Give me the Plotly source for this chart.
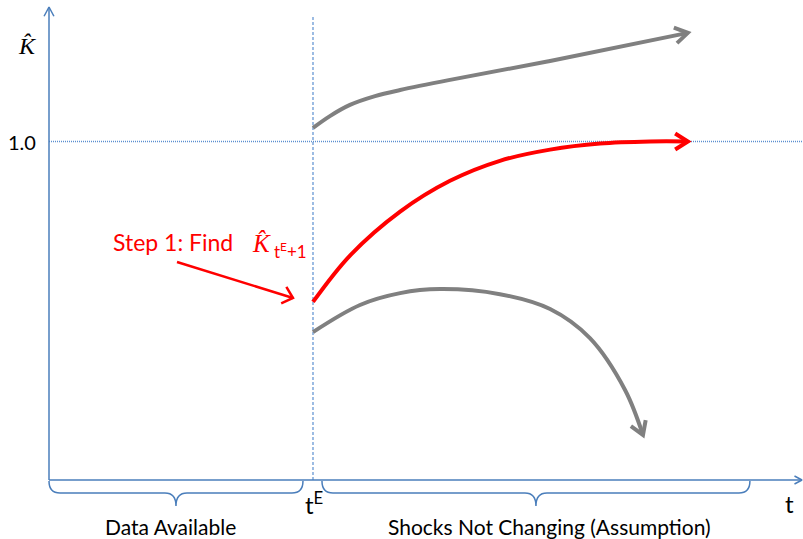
import numpy as np
import plotly.graph_objects as go

# ---------------- data (t in periods, K-hat in units of steady state) ----------------
t_upper = [10.0, 10.64, 11.40, 12.35, 13.30, 15.19, 18.98, 24.20]
k_upper = [1.040, 1.075, 1.108, 1.134, 1.152, 1.182, 1.238, 1.321]

t_red = [10.0, 11.40, 13.30, 15.19, 17.08, 18.98, 20.87, 22.77, 24.20]
k_red = [0.526, 0.663, 0.793, 0.884, 0.943, 0.976, 0.994, 1.0, 1.0]

t_lower = [10.0, 11.78, 13.30, 14.81, 17.08, 18.98, 20.49, 21.82, 22.50]
k_lower = [0.437, 0.517, 0.552, 0.564, 0.549, 0.505, 0.419, 0.266, 0.133]

t_E = 10.0
k_ref = 1.0
y_tick_labels = ["1.0"]
brace_spans = [(0.0, 9.62), (10.34, 26.55)]
brace_labels = ["Data Available", "Shocks Not Changing (Assumption)"]
brace_label_t = [4.62, 18.94]

# ---------------- geometry helpers ----------------
W, H = 803, 539
X0PX, Y0PX = 49, 480
SX, SY = 26.4, 338.5


def xd(px):
    return (px - X0PX) / SX


def yd(py):
    return (Y0PX - py) / SY


def xp(x):
    return X0PX + x * SX


def yp(y):
    return Y0PX - y * SY


def chevron(x_from, y_from, x_tip, y_tip, length, half_angle_deg):
    """Open arrowhead at (x_tip,y_tip) pointing along from->tip, computed in pixel space."""
    ax, ay = xp(x_from), yp(y_from)
    bx, by = xp(x_tip), yp(y_tip)
    ang = np.arctan2(by - ay, bx - ax)
    h = np.radians(half_angle_deg)
    xs, ys = [], []
    for s in (1, -1):
        a = ang + np.pi + s * h
        xs.append(xd(bx + length * np.cos(a)))
        ys.append(yd(by + length * np.sin(a)))
    return [xs[0], x_tip, xs[1]], [ys[0], y_tip, ys[1]]


BLUE = "#4a7ebb"
GRAY = "#808080"
RED = "#ff0000"
FONT = "Lato"

fig = go.Figure()


def add_line(x, y, color, width, dash="solid", shape="linear"):
    fig.add_trace(go.Scatter(x=x, y=y, mode="lines", hoverinfo="skip",
                             line=dict(color=color, width=width, dash=dash, shape=shape)))


# reference lines
x_right = xd(W)
add_line([0, x_right], [k_ref, k_ref], "#5b8fd0", 1.3, dash="1px,1px")
add_line([t_E, t_E], [0, yd(15)], "#5b8fd0", 1.2, dash="3px,2px")

# axes with arrows
y_top = yd(7)
add_line([0, 0], [0, y_top], BLUE, 1.5)
x_tip = xd(802)
add_line([0, x_tip], [0, 0], BLUE, 1.5)
cx, cy = chevron(0, 0, 0, y_top, 10.5, 28)
add_line(cx, cy, BLUE, 1.5)
cx, cy = chevron(0, 0, x_tip, 0, 8.5, 28)
add_line(cx, cy, BLUE, 1.5)

# curves
for tt, kk, col in ((t_upper, k_upper, GRAY), (t_lower, k_lower, GRAY), (t_red, k_red, RED)):
    add_line(tt, kk, col, 4, shape="spline")
    cx, cy = chevron(tt[-2], kk[-2], tt[-1], kk[-1], 15, 32)
    add_line(cx, cy, col, 4)

# Step 1 pointer arrow
sx0, sy0 = xd(177), yd(262)
sx1, sy1 = xd(293), yd(298)
add_line([sx0, sx1], [sy0, sy1], RED, 2.5)
cx, cy = chevron(sx0, sy0, sx1, sy1, 13, 42)
add_line(cx, cy, RED, 2.5)

# braces
shapes = []
r = 11 / SX
y_top_b = yd(481)
y_mid_b = yd(493)
y_tip_b = yd(506)
for (a, b) in brace_spans:
    m = (a + b) / 2
    path = (f"M {a},{y_top_b} Q {a},{y_mid_b} {a + r},{y_mid_b} "
            f"L {m - r},{y_mid_b} Q {m},{y_mid_b} {m},{y_tip_b} "
            f"Q {m},{y_mid_b} {m + r},{y_mid_b} "
            f"L {b - r},{y_mid_b} Q {b},{y_mid_b} {b},{y_top_b}")
    shapes.append(dict(type="path", path=path, xref="x", yref="y",
                       line=dict(color=BLUE, width=1.5)))

annotations = []


def text(x, y, s, size, color="black", family=FONT, xanchor="center"):
    annotations.append(dict(x=x, y=y, xref="x", yref="y", text=s, showarrow=False,
                            font=dict(family=family, size=size, color=color),
                            xanchor=xanchor, yanchor="middle"))


text(xd(22), k_ref, y_tick_labels[0], 20)
text(xd(27), yd(46), "<i>K\u0302</i>", 24, family="Liberation Serif")
text(xd(314), yd(503), "t<sup>E</sup>", 24)
text(xd(789), yd(503), "t", 24)
for lx, lab in zip(brace_label_t, brace_labels):
    text(lx, yd(526), lab, 21)
text(xd(111), yd(242), "Step 1: Find", 23, color=RED, xanchor="left")
text(xd(250), yd(243), "<i>K\u0302</i>", 25, color=RED, family="Liberation Serif", xanchor="left")
text(xd(272), yd(250), "t<sup>E</sup>+1", 17, color=RED, xanchor="left")

fig.update_layout(
    width=W, height=H, margin=dict(l=0, r=0, t=0, b=0),
    paper_bgcolor="white", plot_bgcolor="white", showlegend=False,
    xaxis=dict(range=[xd(0), xd(W)], visible=False, fixedrange=True),
    yaxis=dict(range=[yd(H), yd(0)], visible=False, fixedrange=True),
    shapes=shapes, annotations=annotations,
)

fig.write_html("out.html", config={"displayModeBar": False},
               post_script="document.body.style.margin='0px';document.body.style.overflow='hidden';")
